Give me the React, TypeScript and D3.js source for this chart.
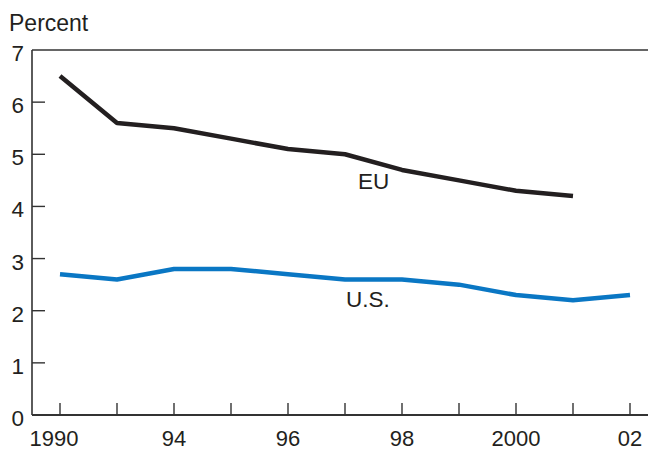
import React from "react";
import * as d3 from "d3";

const years = [1990, 1993, 1994, 1995, 1996, 1997, 1998, 1999, 2000, 2001, 2002];
const xLabels = ["1990", "", "94", "", "96", "", "98", "", "2000", "", "02"];
const euValues = [6.5, 5.6, 5.5, 5.3, 5.1, 5.0, 4.7, 4.5, 4.3, 4.2];
const usValues = [2.7, 2.6, 2.8, 2.8, 2.7, 2.6, 2.6, 2.5, 2.3, 2.2, 2.3];
const yTicks = [0, 1, 2, 3, 4, 5, 6, 7];

const W = 648;
const H = 451;
const left = 32;
const top = 50;
const bottom = 415;
const right = 648;

export default function App() {
  const x = d3.scalePoint<number>().domain(years).range([60, 630]);
  const y = d3.scaleLinear().domain([0, 7]).range([bottom, top]);
  const line = d3
    .line<number>()
    .x((_, i) => x(years[i]) as number)
    .y((d) => y(d));
  const font = "'Liberation Sans', Arial, Helvetica, sans-serif";
  const ink = "#231f20";
  return (
    <svg
      width={W}
      height={H}
      style={{ position: "absolute", left: 0, top: 0, background: "#fff" }}
      fontFamily={font}
    >
      <text x={9} y={31} fontSize={23} fill={ink}>
        Percent
      </text>
      {/* top frame line */}
      <line x1={left} x2={right} y1={top} y2={top} stroke="#333" strokeWidth={1.6} />
      {/* y axis */}
      <line x1={left} x2={left} y1={top} y2={bottom} stroke="#333" strokeWidth={1.6} />
      {yTicks.map((t) => (
        <g key={t}>
          {t > 0 && t < 7 && (
            <line x1={left} x2={left + 13} y1={y(t)} y2={y(t)} stroke="#333" strokeWidth={1.4} />
          )}
          <text x={24} y={y(t) + 11} fontSize={22.5} textAnchor="end" fill={ink}>
            {t}
          </text>
        </g>
      ))}
      {/* x axis */}
      <line x1={left} x2={right} y1={bottom} y2={bottom} stroke="#333" strokeWidth={2} />
      {years.map((yr, i) => (
        <g key={yr}>
          <line
            x1={x(yr)}
            x2={x(yr)}
            y1={bottom}
            y2={bottom - 12}
            stroke="#333"
            strokeWidth={1.4}
          />
          {xLabels[i] && (
            <text x={(x(yr) as number) - (i === 0 ? 6 : 0)} y={446} fontSize={22} textAnchor="middle" fill={ink}>
              {xLabels[i]}
            </text>
          )}
        </g>
      ))}
      <path d={line(euValues) || ""} fill="none" stroke={ink} strokeWidth={4.5} strokeLinejoin="round" />
      <path d={line(usValues) || ""} fill="none" stroke="#0a77c4" strokeWidth={4.5} strokeLinejoin="round" />
      <text x={358} y={189} fontSize={22.5} fill={ink}>
        EU
      </text>
      <text x={346} y={307} fontSize={22.5} fill={ink}>
        U.S.
      </text>
    </svg>
  );
}
